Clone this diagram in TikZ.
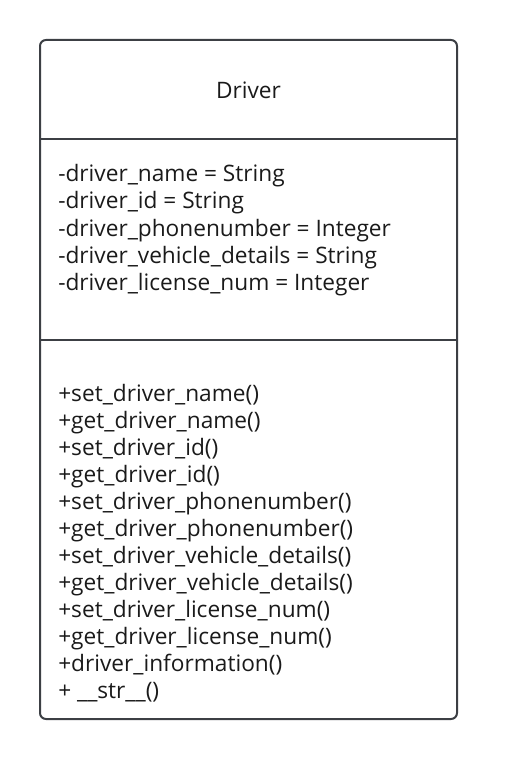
\documentclass[tikz,border=0pt]{standalone}
\usepackage{fontspec}
\setmainfont{Open Sans}
\usetikzlibrary{positioning}
\definecolor{boxgray}{HTML}{3C3F44}
\definecolor{textdark}{HTML}{1A1A1A}

\begin{document}
\begin{tikzpicture}[x=0.75pt, y=-0.75pt,
    member/.style={anchor=base west, inner sep=0pt, text=textdark,
      font=\fontsize{17}{20}\selectfont}]
    \useasboundingbox (0,0) rectangle (517,759);

    % --- Class box ---
    \draw[boxgray, line width=1.5pt, rounded corners=4.5pt] (40,40) rectangle (457,719);
    \coordinate (sepA west) at (40,139);
    \coordinate (sepA east) at (457,139);
    \coordinate (sepB west) at (40,340);
    \coordinate (sepB east) at (457,340);
    \draw[boxgray, line width=1.5pt] (sepA west) -- (sepA east);
    \draw[boxgray, line width=1.5pt] (sepB west) -- (sepB east);

    % Class name
    \node[member, anchor=base] (classname) at (248.5,99) {Driver};

    % Attributes
    \foreach \t [count=\i] in {-driver\_name = String, -driver\_id = String,
        -driver\_phonenumber = Integer, -driver\_vehicle\_details = String,
        -driver\_license\_num = Integer}
      \node[member] (attr\i) at (58,{182+27*(\i-1)}) {\t};

    % Methods
    \foreach \t [count=\i] in {+set\_driver\_name(), +get\_driver\_name(),
        +set\_driver\_id(), +get\_driver\_id(),
        +set\_driver\_phonenumber(), +get\_driver\_phonenumber(),
        +set\_driver\_vehicle\_details(), +get\_driver\_vehicle\_details(),
        +set\_driver\_license\_num(), +get\_driver\_license\_num(),
        +driver\_information(), + \_\_str\_\_()}
      \node[member] (meth\i) at (58,{401+27*(\i-1)}) {\t};
\end{tikzpicture}
\end{document}
